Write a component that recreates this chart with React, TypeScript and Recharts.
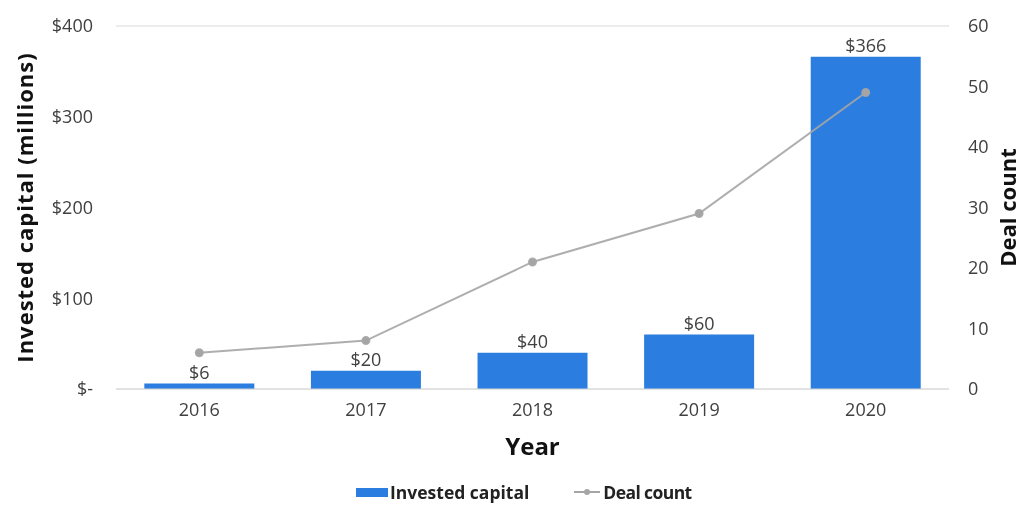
import { ComposedChart, Bar, Line, XAxis, YAxis, CartesianGrid, Legend, LabelList, Label } from 'recharts';

const years = ['2016', '2017', '2018', '2019', '2020'];
const investedCapital = [6, 20, 40, 60, 366];
const dealCount = [6, 8, 21, 29, 49];
const capitalTicks = [0, 100, 200, 300, 400];
const countTicks = [0, 10, 20, 30, 40, 50, 60];

const data = years.map((year, i) => ({
  year,
  capital: investedCapital[i],
  deals: dealCount[i],
}));

const BLUE = '#2B7DE0';
const GRAY = '#A5A5A5';
const TEXT = '#404040';
const tickFont = { fontFamily: 'Open Sans', fontSize: 18, fill: TEXT };
const titleFont = { fontFamily: 'Open Sans', fontWeight: 700, fill: '#111' };

const fmtMoney = (v: number) => (v === 0 ? '$-' : `$${v}`);

function LegendBox() {
  return (
    <div style={{ display: 'flex', alignItems: 'center', height: 22, paddingLeft: 348, fontFamily: 'Open Sans', fontWeight: 700, fontSize: 17.5, color: '#222' }}>
      <span style={{ display: 'inline-block', width: 32, height: 9, background: BLUE, marginRight: 2 }} />
      <span style={{ marginRight: 45 }}>Invested capital</span>
      <svg width={26} height={10} style={{ marginRight: 3 }}>
        <line x1={0} y1={5} x2={26} y2={5} stroke={GRAY} strokeWidth={2} />
        <circle cx={13} cy={5} r={3} fill={GRAY} />
      </svg>
      <span style={{ letterSpacing: -0.6 }}>Deal count</span>
    </div>
  );
}

export default function App() {
  // fixed so the chart can run to the window edges without scrollbars
  return (
    <div style={{ position: 'fixed', left: 8, top: 8, width: 1014, height: 497, overflow: 'hidden' }}>
      <ComposedChart width={1014} height={497} data={data} margin={{ top: 18, right: 13, left: 28, bottom: 2 }} barCategoryGap="17%">
        <CartesianGrid vertical={false} stroke="#d9d9d9" />
        <XAxis dataKey="year" height={92} tickLine={false} axisLine={{ stroke: '#d9d9d9' }} tick={tickFont} tickMargin={8}>
          <Label value="Year" position="insideBottom" offset={26} style={{ ...titleFont, fontSize: 24 }} />
        </XAxis>
        <YAxis yAxisId="left" width={80} domain={[0, 400]} ticks={capitalTicks} tickFormatter={fmtMoney} tickLine={false} axisLine={false} tick={tickFont} tickMargin={17}>
          <Label value="Invested capital (millions)" angle={-90} position="insideLeft" offset={-11} style={{ ...titleFont, textAnchor: 'middle', fontSize: 22, letterSpacing: 1 }} />
        </YAxis>
        <YAxis yAxisId="right" orientation="right" width={60} domain={[0, 60]} ticks={countTicks} tickLine={false} axisLine={false} tick={tickFont} tickMargin={13}>
          <Label value="Deal count" angle={-90} position="insideRight" offset={1} style={{ ...titleFont, textAnchor: 'middle', fontSize: 22 }} />
        </YAxis>
        <Legend verticalAlign="bottom" wrapperStyle={{ left: 0, width: 1014 }} content={() => <LegendBox />} />
        <Bar yAxisId="left" dataKey="capital" name="Invested capital" fill={BLUE} isAnimationActive={false}>
          <LabelList dataKey="capital" position="top" offset={5} formatter={(v: any) => `$${v}`} style={{ fontFamily: 'Open Sans', fontSize: 18, fill: TEXT }} />
        </Bar>
        <Line yAxisId="right" dataKey="deals" name="Deal count" stroke={GRAY} strokeOpacity={0.9} strokeWidth={2} dot={{ r: 3.5, fill: GRAY, stroke: GRAY }} isAnimationActive={false} />
      </ComposedChart>
    </div>
  );
}
